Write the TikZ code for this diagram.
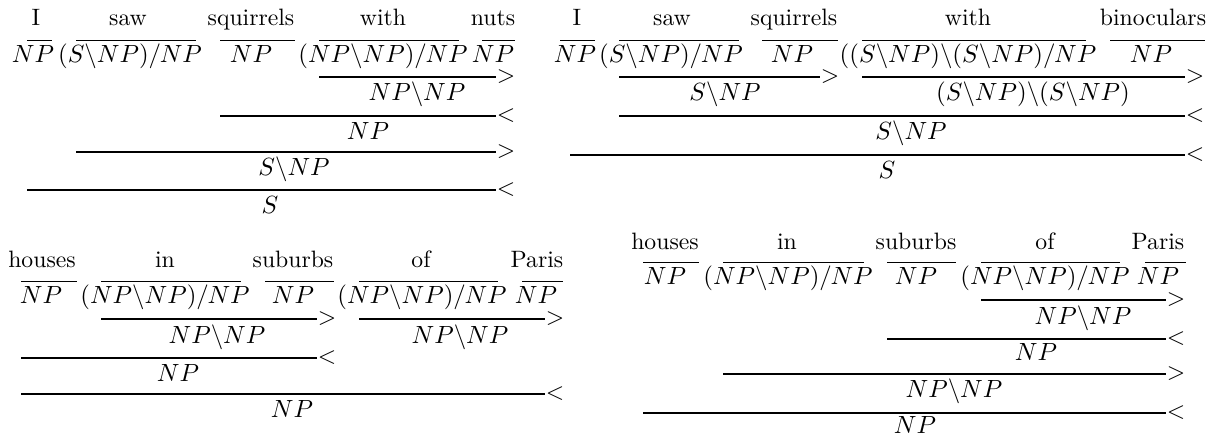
\documentclass[tikz,border=0pt]{standalone}
\usepackage{graphicx}
\usepackage{amsmath}
\usepackage{amssymb}
\newcommand{\cg}[1]{\scalebox{1.05}{$#1$}}

\begin{document}
\begin{tikzpicture}[x=0.422pt,y=-0.422pt,
  every node/.style={inner sep=0pt,anchor=base},
  op/.style={anchor=center},
  lexbar/.style={line width=0.4pt},
  rule/.style={line width=0.5pt}]
\useasboundingbox (0,0) rectangle (1208,436);

% I saw squirrels with nuts
\node (a1) at (36,26) {I};
\node (a2) at (128,26) {saw};
\node (a3) at (251,26) {squirrels};
\node (a4) at (383,26) {with};
\node (a5) at (493,26) {nuts};
\draw[lexbar] (27,40) -- (52,40);
\draw[lexbar] (76,40) -- (196,40);
\draw[lexbar] (220,40) -- (295,40);
\draw[lexbar] (319,40) -- (459,40);
\draw[lexbar] (482,40) -- (515,40);
\node (a1c) at (33,63) {\cg{NP}};
\node (a2c) at (130,63) {\cg{(S\backslash NP)/NP}};
\node (a3c) at (251,63) {\cg{NP}};
\node (a4c) at (383,63) {\cg{(NP\backslash NP)/NP}};
\node (a5c) at (493,63) {\cg{NP}};
\coordinate (ar1) at (319,77);
\coordinate (ar2) at (220,116);
\coordinate (ar3) at (76,152);
\coordinate (ar4) at (27,190);
\node[op] (ar1op) at (506,77) {$>$};
\node[op] (ar2op) at (506,116) {$<$};
\node[op] (ar3op) at (506,152) {$>$};
\node[op] (ar4op) at (506,190) {$<$};
\draw[rule] (ar1) -- (ar1op);
\draw[rule] (ar2) -- (ar2op);
\draw[rule] (ar3) -- (ar3op);
\draw[rule] (ar4) -- (ar4op);
\node (ad1) at (417,101) {\cg{NP\backslash NP}};
\node (ad2) at (368,140) {\cg{NP}};
\node (ad3) at (294,176) {\cg{S\backslash NP}};
\node (ad4) at (270,214) {\cg{S}};

% I saw squirrels with binoculars
\node (b1) at (577,26) {I};
\node (b2) at (672,26) {saw};
\node (b3) at (794,26) {squirrels};
\node (b4) at (968,26) {with};
\node (b5) at (1153,26) {binoculars};
\draw[lexbar] (560,40) -- (595,40);
\draw[lexbar] (619,40) -- (739,40);
\draw[lexbar] (762,40) -- (838,40);
\draw[lexbar] (862,40) -- (1086,40);
\draw[lexbar] (1110,40) -- (1205,40);
\node (b1c) at (575,63) {\cg{NP}};
\node (b2c) at (671,63) {\cg{(S\backslash NP)/NP}};
\node (b3c) at (792,63) {\cg{NP}};
\node (b4c) at (968,63) {\cg{((S\backslash NP)\backslash(S\backslash NP)/NP}};
\node (b5c) at (1151,63) {\cg{NP}};
\coordinate (br1) at (619,77);
\coordinate (br1b) at (862,77);
\coordinate (br2) at (619,116);
\coordinate (br3) at (570,155);
\node[op] (br1op) at (830,77) {$>$};
\node[op] (br1bop) at (1195,77) {$>$};
\node[op] (br2op) at (1195,116) {$<$};
\node[op] (br3op) at (1195,155) {$<$};
\draw[rule] (br1) -- (br1op);
\draw[rule] (br1b) -- (br1bop);
\draw[rule] (br2) -- (br2op);
\draw[rule] (br3) -- (br3op);
\node (bd1) at (725,101) {\cg{S\backslash NP}};
\node (bd1b) at (1033,101) {\cg{(S\backslash NP)\backslash(S\backslash NP)}};
\node (bd2) at (911,140) {\cg{S\backslash NP}};
\node (bd3) at (887,179) {\cg{S}};

% houses in suburbs of Paris
\node (c1) at (42,268) {houses};
\node (c2) at (165,268) {in};
\node (c3) at (293,268) {suburbs};
\node (c4) at (421,268) {of};
\node (c5) at (537,268) {Paris};
\draw[lexbar] (21,281) -- (77,281);
\draw[lexbar] (101,281) -- (241,281);
\draw[lexbar] (265,281) -- (334,281);
\draw[lexbar] (359,281) -- (498,281);
\draw[lexbar] (522,281) -- (563,281);
\node (c1c) at (41,304) {\cg{NP}};
\node (c2c) at (165,304) {\cg{(NP\backslash NP)/NP}};
\node (c3c) at (293,304) {\cg{NP}};
\node (c4c) at (422,304) {\cg{(NP\backslash NP)/NP}};
\node (c5c) at (536,304) {\cg{NP}};
\coordinate (cr1) at (101,319);
\coordinate (cr1b) at (359,319);
\coordinate (cr2) at (21,358);
\coordinate (cr3) at (21,394);
\node[op] (cr1op) at (327,319) {$>$};
\node[op] (cr1bop) at (555,319) {$>$};
\node[op] (cr2op) at (327,358) {$<$};
\node[op] (cr3op) at (555,394) {$<$};
\draw[rule] (cr1) -- (cr1op);
\draw[rule] (cr1b) -- (cr1bop);
\draw[rule] (cr2) -- (cr2op);
\draw[rule] (cr3) -- (cr3op);
\node (cd1) at (217,344) {\cg{NP\backslash NP}};
\node (cd1b) at (460,344) {\cg{NP\backslash NP}};
\node (cd2) at (178,382) {\cg{NP}};
\node (cd3) at (292,418) {\cg{NP}};

% houses in suburbs of Paris, other bracketing
\node (d1) at (665,250) {houses};
\node (d2) at (787,250) {in};
\node (d3) at (916,250) {suburbs};
\node (d4) at (1045,250) {of};
\node (d5) at (1158,250) {Paris};
\draw[lexbar] (643,262) -- (699,262);
\draw[lexbar] (723,262) -- (864,262);
\draw[lexbar] (887,262) -- (956,262);
\draw[lexbar] (981,262) -- (1120,262);
\draw[lexbar] (1145,262) -- (1186,262);
\node (d1c) at (665,285) {\cg{NP}};
\node (d2c) at (788,285) {\cg{(NP\backslash NP)/NP}};
\node (d3c) at (916,285) {\cg{NP}};
\node (d4c) at (1045,285) {\cg{(NP\backslash NP)/NP}};
\node (d5c) at (1158,285) {\cg{NP}};
\coordinate (dr1) at (981,300);
\coordinate (dr2) at (887,339);
\coordinate (dr3) at (723,374);
\coordinate (dr4) at (643,413);
\node[op] (dr1op) at (1176,300) {$>$};
\node[op] (dr2op) at (1176,339) {$<$};
\node[op] (dr3op) at (1176,374) {$>$};
\node[op] (dr4op) at (1176,413) {$<$};
\draw[rule] (dr1) -- (dr1op);
\draw[rule] (dr2) -- (dr2op);
\draw[rule] (dr3) -- (dr3op);
\draw[rule] (dr4) -- (dr4op);
\node (dd1) at (1083,325) {\cg{NP\backslash NP}};
\node (dd2) at (1036,361) {\cg{NP}};
\node (dd3) at (954,398) {\cg{NP\backslash NP}};
\node (dd4) at (915,434) {\cg{NP}};
\end{tikzpicture}
\end{document}
